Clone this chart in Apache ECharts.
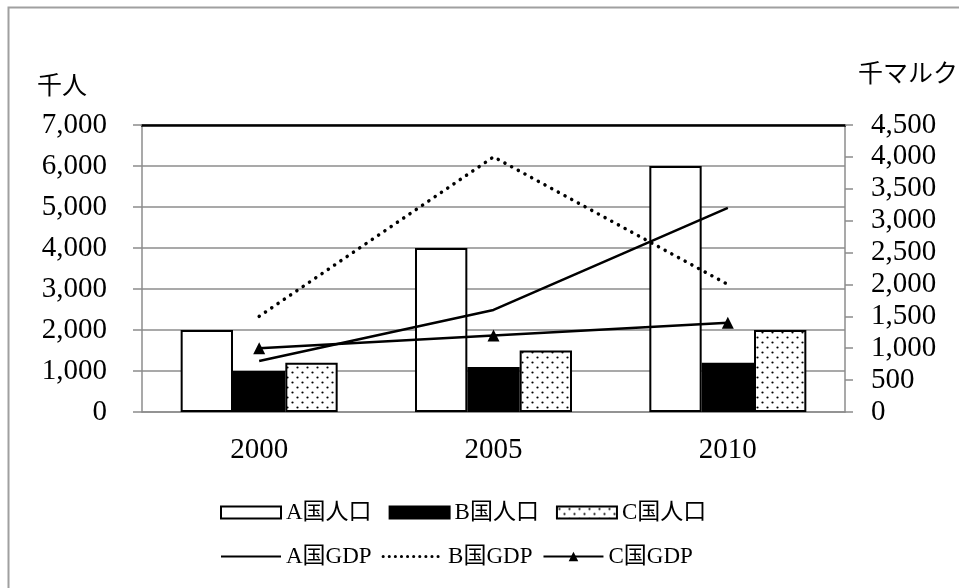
<!DOCTYPE html>
<html>
<head>
<meta charset="utf-8">
<script src="https://cdn.jsdelivr.net/npm/echarts@6/dist/echarts.min.js"></script>
<style>html,body{margin:0;padding:0;background:#fff;}#c{width:959px;height:588px;}</style>
</head>
<body>
<div id="c"></div>
<script>
var categories = ['2000', '2005', '2010'];
var popA = [2000, 4000, 6000];
var popB = [1000, 1100, 1200];
var popC = [1200, 1500, 2000];
var gdpA = [800, 1600, 3200];
var gdpB = [1500, 4000, 2000];
var gdpC = [1000, 1200, 1400];
var leftTicks = {min: 0, max: 7000, interval: 1000};
var rightTicks = {min: 0, max: 4500, interval: 500};

var FONT = '"Liberation Serif", "Noto Sans CJK JP", serif';

// dotted pattern for C bars
var pc = document.createElement('canvas');
pc.width = 10; pc.height = 10;
var g = pc.getContext('2d');
g.fillStyle = '#fff'; g.fillRect(0, 0, 10, 10);
g.fillStyle = '#000';
g.beginPath(); g.arc(2.5, 2.5, 1.1, 0, Math.PI * 2); g.fill();
g.beginPath(); g.arc(7.5, 7.5, 1.1, 0, Math.PI * 2); g.fill();
var dotPattern = {image: pc, repeat: 'repeat'};

function fmt(v) { return String(v).replace(/\B(?=(\d{3})+(?!\d))/g, ','); }

var chart = echarts.init(document.getElementById('c'), null, {renderer: 'canvas'});
var grey = '#8c8c8c';
chart.setOption({
  animation: false,
  backgroundColor: '#fff',
  textStyle: {fontFamily: FONT, color: '#000'},
  graphic: [
    {type: 'rect', shape: {x: 8.5, y: 7.5, width: 1000, height: 1000}, style: {fill: 'none', stroke: '#a0a0a0', lineWidth: 2}},
    {type: 'text', left: 37, top: 75, style: {text: '千人', font: '25px ' + FONT, fill: '#000'}},
    {type: 'text', left: 858, top: 63, style: {text: '千マルク', font: '25px ' + FONT, fill: '#000'}}
  ],
  grid: {left: 142, right: 114, top: 125, bottom: 176},
  legend: [
    {data: [{name: 'A国人口', icon: 'rect'}, {name: 'B国人口', icon: 'rect'}, {name: 'C国人口', icon: 'rect'}],
     left: 215, top: 496, itemWidth: 60, itemHeight: 12, itemGap: 17,
     textStyle: {fontSize: 23, fontFamily: FONT, color: '#000'}},
    {data: ['A国GDP',
            {name: 'B国GDP', lineStyle: {width: 3, type: [0.1, 6], cap: 'round'}},
            {name: 'C国GDP', itemStyle: {color: '#000'}}],
     left: 215, top: 540, itemWidth: 60, itemHeight: 12, itemGap: 10,
     textStyle: {fontSize: 23, fontFamily: FONT, color: '#000'}}
  ],
  xAxis: [
    {type: 'category', data: categories, boundaryGap: true,
     axisLine: {onZero: false, lineStyle: {color: grey, width: 1.5}},
     axisTick: {length: 9, lineStyle: {color: grey, width: 1.5}},
     axisLabel: {fontSize: 29, fontFamily: FONT, color: '#000', margin: 24},
     splitLine: {show: false}},
    {type: 'category', data: categories, position: 'top',
     axisLine: {onZero: false, lineStyle: {color: '#000', width: 2.5}},
     axisTick: {show: false}, axisLabel: {show: false}, splitLine: {show: false}}
  ],
  yAxis: [
    {type: 'value', min: leftTicks.min, max: leftTicks.max, interval: leftTicks.interval, position: 'left',
     axisLine: {show: true, onZero: false, lineStyle: {color: grey, width: 1.5}},
     axisTick: {show: true, length: 9, lineStyle: {color: grey, width: 1.5}},
     axisLabel: {fontSize: 29, fontFamily: FONT, color: '#000', margin: 35, formatter: fmt},
     splitLine: {lineStyle: {color: grey, width: 1.5}}},
    {type: 'value', min: rightTicks.min, max: rightTicks.max, interval: rightTicks.interval, position: 'right',
     axisLine: {show: true, onZero: false, lineStyle: {color: grey, width: 1.5}},
     axisTick: {show: true, length: 8, lineStyle: {color: grey, width: 1.5}},
     axisLabel: {fontSize: 29, fontFamily: FONT, color: '#000', margin: 26, formatter: fmt},
     splitLine: {show: false}}
  ],
  series: [
    {name: 'A国人口', type: 'bar', data: popA, barGap: '0%', barCategoryGap: '33%', yAxisIndex: 0,
     itemStyle: {color: '#fff', borderColor: '#000', borderWidth: 2}},
    {name: 'B国人口', type: 'bar', data: popB, barGap: '0%', barCategoryGap: '33%', yAxisIndex: 0,
     itemStyle: {color: '#000', borderColor: '#000', borderWidth: 2}},
    {name: 'C国人口', type: 'bar', data: popC, barGap: '0%', barCategoryGap: '33%', yAxisIndex: 0,
     itemStyle: {color: dotPattern, borderColor: '#000', borderWidth: 2}},
    {name: 'A国GDP', type: 'line', data: gdpA, yAxisIndex: 1, symbol: 'none',
     lineStyle: {color: '#000', width: 2.5}, itemStyle: {color: '#000', opacity: 0}},
    {name: 'B国GDP', type: 'line', data: gdpB, yAxisIndex: 1, symbol: 'none',
     lineStyle: {color: '#000', width: 3.5, type: [0.1, 7.5], cap: 'round'}, itemStyle: {color: '#000', opacity: 0}},
    {name: 'C国GDP', type: 'line', data: gdpC, yAxisIndex: 1, symbol: 'triangle', symbolSize: 12,
     lineStyle: {color: '#000', width: 2.5}, itemStyle: {color: '#000'}}
  ]
});
</script>
</body>
</html>
